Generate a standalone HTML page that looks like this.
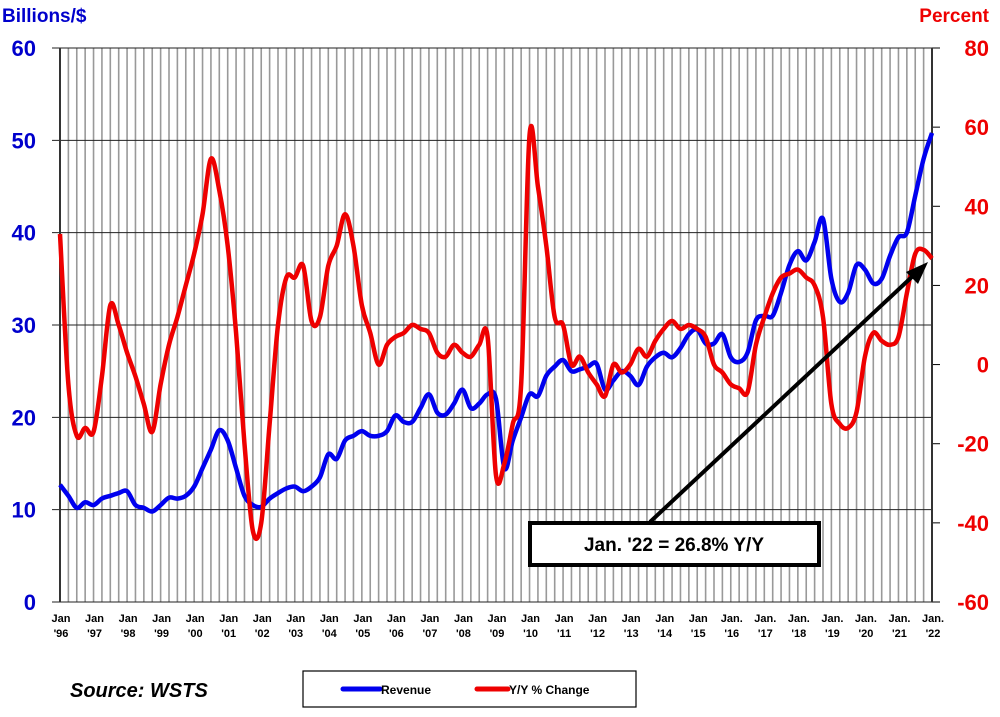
<!DOCTYPE html>
<html><head><meta charset="utf-8"><style>
body{margin:0;background:#fff;}
svg text{font-family:"Liberation Sans",Arial,sans-serif;font-weight:bold;}
</style></head><body>
<svg id="chart" width="1000" height="712" xmlns="http://www.w3.org/2000/svg">
<g id="grid"></g><g id="axes"></g><g id="series"></g>
<text x="2" y="22" fill="#0000cc" font-size="19">Billions/$</text>
<text x="989" y="22" fill="#ee0000" font-size="19" text-anchor="end">Percent</text>
<g>
<line x1="650" y1="522" x2="915" y2="274" stroke="#000" stroke-width="4"/>
<polygon points="928,262 906,272 918,284" fill="#000"/>
<rect x="530" y="523" width="289" height="42" fill="#fff" stroke="#000" stroke-width="4"/>
<text x="674" y="551" font-size="19" text-anchor="middle">Jan. '22 = 26.8% Y/Y</text>
</g>
<text x="70" y="697" font-size="20" font-style="italic">Source: WSTS</text>
<g>
<rect x="303" y="671" width="333" height="36" fill="#fff" stroke="#000" stroke-width="1.2"/>
<line x1="343" y1="689" x2="380" y2="689" stroke="#0000ee" stroke-width="5" stroke-linecap="round"/>
<text x="381" y="694" font-size="12">Revenue</text>
<line x1="477" y1="689" x2="508" y2="689" stroke="#ee0000" stroke-width="5" stroke-linecap="round"/>
<text x="509" y="694" font-size="12">Y/Y % Change</text>
</g>
</svg>
<script>
const years = ['96','97','98','99','00','01','02','03','04','05','06','07','08','09','10','11','12','13','14','15','16','17','18','19','20','21','22'];
const leftTicks = [0,10,20,30,40,50,60];
const rightTicks = [-60,-40,-20,0,20,40,60,80];
// quarterly, Jan 1996 .. Jan 2022
const revenue = [12.7,11.5,10.2,10.8, 10.5,11.2,11.5,11.8, 12.0,10.5,10.2,9.8, 10.5,11.3,11.2,11.5,
12.5,14.5,16.5,18.6, 17.5,14.5,11.5,10.5, 10.3,11.2,11.8,12.3, 12.5,12.0,12.5,13.5,
16.0,15.5,17.5,18.0, 18.5,18.0,18.0,18.5, 20.2,19.5,19.5,21.0, 22.5,20.5,20.3,21.5,
23.0,21.0,21.5,22.5, 22.0,14.5,17.5,20.0, 22.5,22.3,24.5,25.5, 26.2,25.0,25.2,25.5,
25.8,23.0,24.0,25.0, 24.5,23.5,25.5,26.5, 27.0,26.5,27.5,29.0, 29.5,28.0,28.0,29.0,
26.5,26.0,27.0,30.5, 31.0,31.0,33.5,36.5, 38.0,37.0,39.0,41.5, 35.0,32.5,33.5,36.5,
36.0,34.5,35.0,37.5, 39.5,40.0,44.0,48.0, 50.8];
const yoy = [33,-5,-18,-16, -17,-3,15,10, 3,-3,-10,-17, -5,5,12,20, 28,38,52,44, 30,8,-20,-42,
-40,-15,10,22, 22,25,11,12, 25,30,38,30, 15,8,0,5, 7,8,10,9, 8,3,2,5, 3,2,5,7,
-28,-25,-15,-5, 58,45,30,12, 10,0,2,-2, -5,-8,0,-2, 0,4,2,6, 9,11,9,10, 9,7,0,-2,
-5,-6,-7,5, 12,18,22,23, 24,22,20,12, -10,-15,-16,-12, 2,8,6,5, 7,18,28,29, 26.8];
const NS='http://www.w3.org/2000/svg';
const X0=60,X1=932,Y0=48,Y1=602;
const nQ=(years.length-1)*4;
const xq=i=>X0+(X1-X0)*i/nQ;
const yL=v=>Y1-(v-0)/60*(Y1-Y0);
const yR=v=>Y1-(v+60)/140*(Y1-Y0);
function mk(tag,attrs,parent,text){const e=document.createElementNS(NS,tag);for(const k in attrs)e.setAttribute(k,attrs[k]);if(text!==undefined)e.textContent=text;parent.appendChild(e);return e;}
function spline(pts){let d='M'+pts[0][0]+','+pts[0][1];for(let i=0;i<pts.length-1;i++){const p0=pts[Math.max(0,i-1)],p1=pts[i],p2=pts[i+1],p3=pts[Math.min(pts.length-1,i+2)];const c1x=p1[0]+(p2[0]-p0[0])/6,c1y=p1[1]+(p2[1]-p0[1])/6,c2x=p2[0]-(p3[0]-p1[0])/6,c2y=p2[1]-(p3[1]-p1[1])/6;d+=' C'+c1x+','+c1y+' '+c2x+','+c2y+' '+p2[0]+','+p2[1];}return d;}
const grid=document.getElementById('grid'),axes=document.getElementById('axes'),ser=document.getElementById('series');
for(let i=1;i<nQ;i++){
  const l=mk('line',{x1:xq(i),x2:xq(i),y1:Y0,y2:Y1,stroke:'#999','stroke-width':1.6},grid);
  
  
}
leftTicks.forEach(v=>{
  const l=mk('line',{x1:52,x2:X1,y1:yL(v),y2:yL(v),stroke:'#222','stroke-width':1},grid);
  
  
  const t=mk('text',{x:36,y:yL(v)+8,'font-size':22,fill:'#0000cc','text-anchor':'end'},axes,String(v));
  
  
});
rightTicks.forEach(v=>{
  const l=mk('line',{x1:X1,x2:X1+8,y1:yR(v),y2:yR(v),stroke:'#000','stroke-width':1},axes);
  
  
  const t=mk('text',{x:989,y:yR(v)+8,'font-size':22,fill:'#ee0000','text-anchor':'end'},axes,String(v));
  
  
});
[[X0,'left-axis'],[X1,'right-axis']].forEach(([x,n])=>{
  const l=mk('line',{x1:x,x2:x,y1:Y0,y2:Y1,stroke:'#333','stroke-width':2},axes);
  
  
});
years.forEach((y,i)=>{
  const x=xq(i*4)+1;
  const t1=mk('text',{x:x,y:622,'font-size':11,'text-anchor':'middle'},axes,(+y>=16&&+y<50)?'Jan.':'Jan');
  
  
  const t2=mk('text',{x:x,y:637,'font-size':11,'text-anchor':'middle'},axes,"'"+y);
  
  
});
const pr=mk('path',{d:spline(revenue.map((v,i)=>[xq(i),yL(v)])),fill:'none',stroke:'#0000ee','stroke-width':4.5,'stroke-linejoin':'round'},ser);


const py=mk('path',{d:spline(yoy.map((v,i)=>[xq(i),yR(v)])),fill:'none',stroke:'#ee0000','stroke-width':4.5,'stroke-linejoin':'round'},ser);


</script>
</body></html>
